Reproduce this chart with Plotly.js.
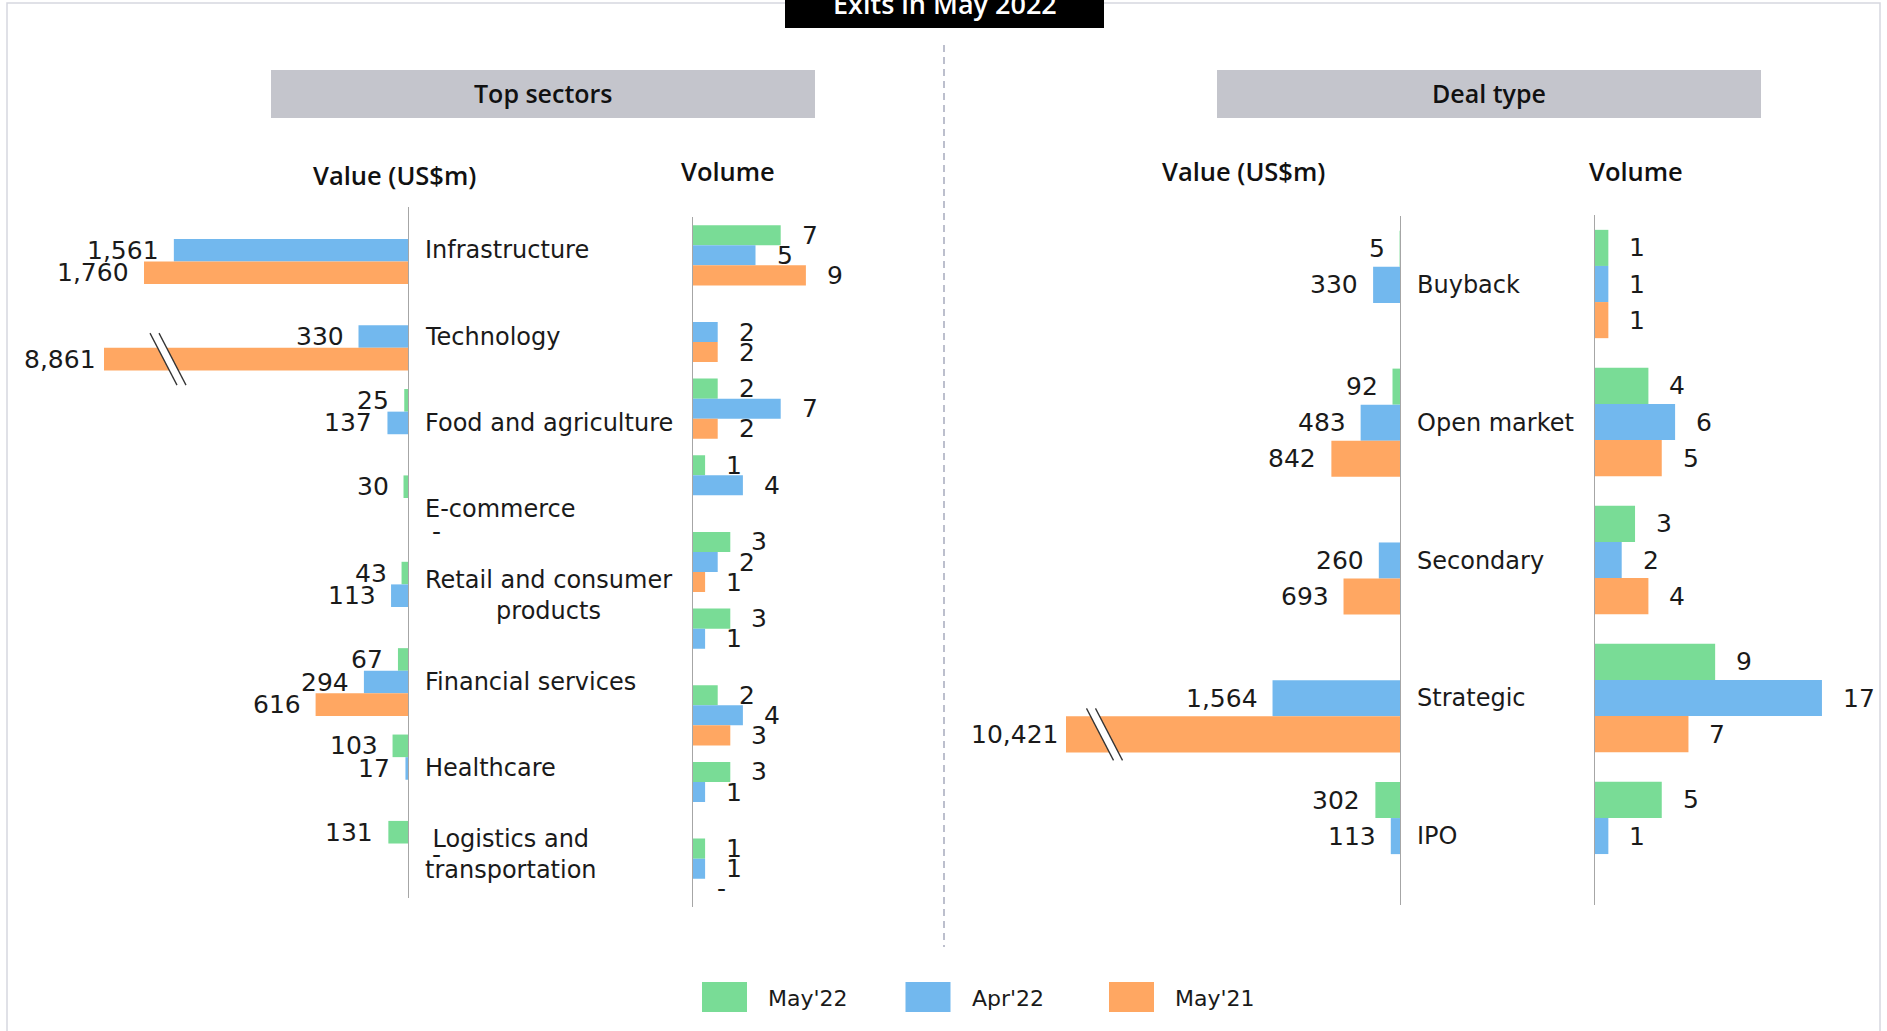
<!DOCTYPE html>
<html>
<head>
<meta charset="utf-8">
<script src="https://cdn.plot.ly/plotly-3.0.1.min.js"></script>
<style>
  html, body { margin: 0; padding: 0; background: #ffffff; }
  #chart { width: 1887px; height: 1031px; }
</style>
</head>
<body>
<div id="chart"></div>
<script>
// ---------------- DATA ----------------
const chartTitle = "Exits in May 2022";
const seriesNames = ["May'22", "Apr'22", "May'21"];
const seriesColors = ["#79DC96", "#72B8EE", "#FFA762"];

// Top sectors - value (US$m)
const sectors = ["Infrastructure", "Technology", "Food and agriculture", "E-commerce",
  "Retail and consumer products", "Financial services", "Healthcare", "Logistics and transportation"];
const sectorValueMay22 = [null, null, 25, 30, 43, 67, 103, 131];
const sectorValueApr22 = [1561, 330, 137, null, 113, 294, 17, 0];
const sectorValueMay21 = [1760, 8861, null, 0, null, 616, null, null];

// Top sectors - volume (the chart shows nine rows of volume bars)
const sectorVolumeRows = ["Infrastructure", "Technology", "Food and agriculture", "E-commerce",
  "Retail and consumer products", "Row 6 (unlabelled)", "Financial services", "Healthcare", "Logistics and transportation"];
const sectorVolumeMay22 = [7, null, 2, 1, 3, 3, 2, 3, 1];
const sectorVolumeApr22 = [5, 2, 7, 4, 2, 1, 4, 1, 1];
const sectorVolumeMay21 = [9, 2, 2, null, 1, null, 3, null, 0];

// Deal type
const dealTypes = ["Buyback", "Open market", "Secondary", "Strategic", "IPO"];
const dealValueMay22 = [5, 92, null, null, 302];
const dealValueApr22 = [330, 483, 260, 1564, 113];
const dealValueMay21 = [null, 842, 693, 10421, null];
const dealVolumeMay22 = [1, 4, 3, 9, 5];
const dealVolumeApr22 = [1, 6, 2, 17, 1];
const dealVolumeMay21 = [1, 5, 4, 7, null];

const panelHeaders = ["Top sectors", "Deal type"];
const subHeaders = ["Value (US$m)", "Volume"];

// ---------------- LAYOUT HELPERS ----------------
const W = 1887, H = 1031;
const BARGAP = 0.215;
const FONT = "DejaVu Sans";
const HFONT = "Open Sans";
const TXT = "#1a1a1a";
const px = x => x / W;
const py = y => 1 - y / H;

// panel geometry in pixels; scale = pixels per unit
const P = {
  sv: { x0: 104, x1: 408, y0: 207, y1: 898, scale: 0.15, reversed: true, xa: "x", ya: "y", breakAt: 64 },
  sq: { x0: 692.5, x1: 880, y0: 217, y1: 907, scale: 12.6, reversed: false, xa: "x2", ya: "y2" },
  dv: { x0: 1066, x1: 1400, y0: 216, y1: 905, scale: 0.0815, reversed: true, xa: "x3", ya: "y3", breakAt: 38.5 },
  dq: { x0: 1595, x1: 1860, y0: 215, y1: 905, scale: 13.35, reversed: false, xa: "x4", ya: "y4" }
};

function xAxis(p) {
  const span = (p.x1 - p.x0) / p.scale;
  return {
    domain: [px(p.x0), px(p.x1)], range: p.reversed ? [span, 0] : [0, span],
    showgrid: false, zeroline: false, showline: false, showticklabels: false, ticks: "",
    fixedrange: true, anchor: p.ya
  };
}
function yAxis(p, n) {
  return {
    domain: [py(p.y1), py(p.y0)], range: [n - 0.5, -0.5],
    side: p.reversed ? "right" : "left",
    showline: true, linecolor: "#a6a6a6", linewidth: 1,
    showgrid: false, zeroline: false, showticklabels: false, ticks: "",
    fixedrange: true, anchor: p.xa
  };
}

const traces = [];
const annotations = [];
const shapes = [];

const fmt = v => v.toLocaleString("en-US");

function wrapLabel(name) {
  if (name.length <= 20) return name;
  const words = name.split(" ");
  let line = "", i = 0;
  while (i < words.length && (line + (line ? " " : "") + words[i]).length <= 19) {
    line += (line ? " " : "") + words[i]; i++;
  }
  return line + "<br>" + words.slice(i).join(" ");
}

function addPanel(p, cats, series, isValue) {
  const n = cats.length;
  const xmax = (p.x1 - p.x0) / p.scale;
  const bw = (1 - BARGAP) / 3;
  series.forEach((vals, k) => {
    traces.push({
      type: "bar", orientation: "h",
      y: cats.map((c, i) => i), x: vals,
      customdata: cats,
      name: seriesNames[k], marker: { color: seriesColors[k] },
      xaxis: p.xa, yaxis: p.ya, hoverinfo: "skip", showlegend: false
    });
    vals.forEach((v, i) => {
      if (v === null || v === undefined) return;
      const y = i + (k - 1) * bw;
      const ann = {
        xref: p.xa, yref: p.ya, y: y, showarrow: false, borderpad: 0, borderwidth: 0,
        yanchor: "middle", font: { family: FONT, size: 25, color: TXT }
      };
      if (v === 0) {
        ann.x = 0; ann.text = "-"; ann.xanchor = "left"; ann.xshift = 24;
      } else if (isValue) {
        const clipped = v > xmax;
        ann.x = clipped ? xmax : v; ann.text = fmt(v); ann.xanchor = "right";
        ann.xshift = clipped ? -8 : -15;
        if (clipped) {
          // axis-break mark drawn across the truncated bar
          const cy = p.y0 + (p.y1 - p.y0) / n * (i + 0.5 + (k - 1) * bw);
          const cx = p.x0 + p.breakAt;
          const a1 = [cx - 18, cy - 26], b1 = [cx + 9, cy + 26];
          const a2 = [cx - 9, cy - 26], b2 = [cx + 18, cy + 26];
          shapes.push({
            type: "path", xref: "paper", yref: "paper",
            path: `M ${px(a1[0])},${py(a1[1])} L ${px(a2[0])},${py(a2[1])} L ${px(b2[0])},${py(b2[1])} L ${px(b1[0])},${py(b1[1])} Z`,
            fillcolor: "#ffffff", line: { width: 0 }
          });
          [[a1, b1], [a2, b2]].forEach(([a, b]) => shapes.push({
            type: "line", xref: "paper", yref: "paper",
            x0: px(a[0]), y0: py(a[1]), x1: px(b[0]), y1: py(b[1]),
            line: { color: "#333333", width: 1.3 }
          }));
        }
      } else {
        ann.x = v; ann.text = fmt(v); ann.xanchor = "left"; ann.xshift = 21;
      }
      annotations.push(ann);
    });
  });
}

addPanel(P.sv, sectors, [sectorValueMay22, sectorValueApr22, sectorValueMay21], true);
addPanel(P.sq, sectorVolumeRows, [sectorVolumeMay22, sectorVolumeApr22, sectorVolumeMay21], false);
addPanel(P.dv, dealTypes, [dealValueMay22, dealValueApr22, dealValueMay21], true);
addPanel(P.dq, dealTypes, [dealVolumeMay22, dealVolumeApr22, dealVolumeMay21], false);

// category labels to the right of the value axes
[[P.sv, sectors], [P.dv, dealTypes]].forEach(([p, cats]) => {
  cats.forEach((c, i) => annotations.push({
    xref: "paper", yref: p.ya, x: px(p.x1 + 17), y: i, xanchor: "left", yanchor: "middle",
    align: "center", text: wrapLabel(c), showarrow: false, borderpad: 0, borderwidth: 0,
    font: { family: FONT, size: 24, color: TXT }
  }));
});

// frame, title box, divider
shapes.unshift(
  { type: "rect", xref: "paper", yref: "paper", x0: px(7), x1: px(1880), y0: py(1045), y1: py(3),
    line: { color: "#d6d7df", width: 1.5 }, fillcolor: "rgba(0,0,0,0)", layer: "below" },
  { type: "rect", xref: "paper", yref: "paper", x0: px(785), x1: px(1104), y0: py(28), y1: py(-2),
    line: { width: 0 }, fillcolor: "#000000" },
  { type: "line", xref: "paper", yref: "paper", x0: px(944), x1: px(944), y0: py(45), y1: py(947),
    line: { color: "#a7abbd", width: 1.5, dash: "7px,5px" } },
  { type: "rect", xref: "paper", yref: "paper", x0: px(271), x1: px(815), y0: py(118), y1: py(70),
    line: { width: 0 }, fillcolor: "#c4c5cc" },
  { type: "rect", xref: "paper", yref: "paper", x0: px(1217), x1: px(1761), y0: py(118), y1: py(70),
    line: { width: 0 }, fillcolor: "#c4c5cc" }
);

annotations.push({
  xref: "paper", yref: "paper", x: px(944.5), y: py(3), xanchor: "center", yanchor: "middle",
  text: chartTitle, showarrow: false, font: { family: HFONT, size: 27, color: "#ffffff", weight: 600 }
});
const headerPos = [[543, 93], [1489, 93]];
panelHeaders.forEach((t, i) => annotations.push({
  xref: "paper", yref: "paper", x: px(headerPos[i][0]), y: py(headerPos[i][1]),
  xanchor: "center", yanchor: "middle", text: t, showarrow: false,
  font: { family: HFONT, size: 25, color: "#111111", weight: 600 }
}));
const subPos = [[394, 175], [728, 171], [1243, 171], [1636, 171]];
subPos.forEach((pos, i) => annotations.push({
  xref: "paper", yref: "paper", x: px(pos[0]), y: py(pos[1]),
  xanchor: "center", yanchor: "middle", text: subHeaders[i % 2], showarrow: false,
  font: { family: HFONT, size: 25.5, color: "#111111", weight: 600 }
}));

// legend
seriesNames.forEach((s, k) => {
  const x0 = 702 + k * 203.5;
  shapes.push({ type: "rect", xref: "paper", yref: "paper", x0: px(x0), x1: px(x0 + 45),
    y0: py(1012), y1: py(982), line: { width: 0 }, fillcolor: seriesColors[k] });
  annotations.push({ xref: "paper", yref: "paper", x: px(x0 + 64), y: py(998),
    xanchor: "left", yanchor: "middle", text: s, showarrow: false,
    font: { family: FONT, size: 22, color: TXT } });
});

const layout = {
  width: W, height: H,
  margin: { l: 0, r: 0, t: 0, b: 0, pad: 0 },
  paper_bgcolor: "#ffffff", plot_bgcolor: "rgba(0,0,0,0)",
  barmode: "group", bargap: BARGAP, bargroupgap: 0,
  showlegend: false,
  font: { family: FONT, color: TXT },
  xaxis: xAxis(P.sv), yaxis: yAxis(P.sv, sectors.length),
  xaxis2: xAxis(P.sq), yaxis2: yAxis(P.sq, sectorVolumeRows.length),
  xaxis3: xAxis(P.dv), yaxis3: yAxis(P.dv, dealTypes.length),
  xaxis4: xAxis(P.dq), yaxis4: yAxis(P.dq, dealTypes.length),
  shapes: shapes,
  annotations: annotations
};

Plotly.newPlot("chart", traces, layout, { staticPlot: true, displayModeBar: false });
</script>
</body>
</html>
